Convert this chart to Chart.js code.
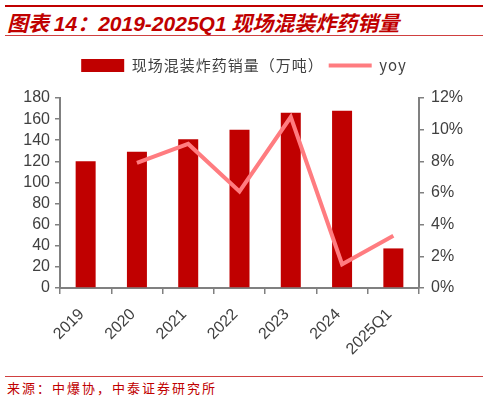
<!DOCTYPE html>
<html>
<head>
<meta charset="utf-8">
<script src="https://cdn.jsdelivr.net/npm/chart.js@4"></script>
<style>
  body { margin: 0; width: 488px; height: 400px; background: #fff; position: relative; overflow: hidden; font-family: "Noto Sans CJK SC", sans-serif; }
  .topline { position: absolute; left: 5px; top: 5px; width: 478px; height: 2px; background: #c00000; }
  .title { position: absolute; left: 7px; top: 7px; font-size: 21px; font-weight: bold; font-style: italic; color: #c00000; white-space: nowrap; }
  .title .num { font-family: "Liberation Sans", Arial, sans-serif; }
  .subline { position: absolute; left: 5px; top: 35px; width: 478px; height: 1px; background: #d04040; }
  .footline { position: absolute; left: 5px; top: 376px; width: 478px; height: 1px; background: #d04040; }
  .source { position: absolute; left: 7px; top: 378px; font-size: 13px; color: #c00000; letter-spacing: 2px; white-space: nowrap; }
  #wrap { position: absolute; left: 0; top: 40px; width: 488px; height: 330px; }
</style>
</head>
<body>
<div class="topline"></div>
<div class="title">图表 <span class="num">14</span>：<span class="num">2019-2025Q1</span> 现场混装炸药销量</div>
<div class="subline"></div>
<div id="wrap"><canvas id="chart"></canvas></div>
<div class="footline"></div>
<div class="source">来源：中爆协，中泰证券研究所</div>

<script>
let years = ["2019", "2020", "2021", "2022", "2023", "2024", "2025Q1"];
let volume = [120, 129, 141, 150, 166, 168, 37.5];   // 万吨
let yoy = [null, 0.079, 0.091, 0.061, 0.108, 0.015, 0.033];
let leftTicks = [0, 180, 20];
let rightTicks = [0, 0.12, 0.02];

let axisColor = "#808080";
let textColor = "#404040";
let tickFont = { size: 16, family: "'Liberation Sans', Arial, sans-serif" };

// wider letters in the legend + fixed legend height
let legendTweak = {
    id: "legendTweak",
    beforeInit: function (c) {
        let lg = c.legend;
        let fit = lg.fit, draw = lg.draw;
        lg.fit = function () {
            c.ctx.letterSpacing = "1px";
            fit.call(this);
            c.ctx.letterSpacing = "0px";
            this.height = 45;
        };
        lg.draw = function () {
            c.ctx.letterSpacing = "1px";
            draw.call(this);
            c.ctx.letterSpacing = "0px";
        };
    }
};

let ctx = document.getElementById("chart").getContext("2d");

let chart = new Chart(ctx, {
    data: {
        labels: years,
        datasets: [{
            type: "line",
            label: "yoy",
            data: yoy,
            yAxisID: "y1",
            borderColor: "#ff7c80",
            backgroundColor: "#ff7c80",
            borderWidth: 4,
            pointRadius: 0,
            tension: 0,
            order: 0
        }, {
            type: "bar",
            label: "现场混装炸药销量（万吨）",
            data: volume,
            yAxisID: "y",
            backgroundColor: "#c00000",
            barPercentage: 0.78,
            categoryPercentage: 0.5,
            order: 1
        }]
    },
    plugins: [legendTweak],
    options: {
        responsive: true,
        maintainAspectRatio: false,
        animation: false,
        layout: { padding: { top: 13, left: 0, right: 0, bottom: 0 } },
        plugins: {
            legend: {
                reverse: true,
                labels: {
                    usePointStyle: true,
                    pointStyleWidth: 43,
                    boxHeight: 13,
                    padding: 5,
                    color: textColor,
                    font: { size: 15, family: "'Noto Sans CJK SC', sans-serif" },
                    generateLabels: function (c) {
                        let items = Chart.defaults.plugins.legend.labels.generateLabels(c);
                        items.forEach(function (it) {
                            if (it.datasetIndex === 1) {
                                it.pointStyle = "rect";
                                it.lineWidth = 0;
                            } else {
                                it.pointStyle = "line";
                                it.lineWidth = 4;
                                it.strokeStyle = "#ff7c80";
                            }
                        });
                        return items;
                    }
                }
            },
            tooltip: { enabled: false }
        },
        scales: {
            x: {
                grid: { drawOnChartArea: false, drawTicks: true, tickLength: 6, color: axisColor, lineWidth: 1.5 },
                border: { color: axisColor, width: 2 },
                ticks: {
                    color: textColor,
                    font: tickFont,
                    padding: 11,
                    labelOffset: -4,
                    maxRotation: 45,
                    minRotation: 45
                },
                afterFit: function (s) { s.height = 82; }
            },
            y: {
                position: "left",
                min: leftTicks[0],
                max: leftTicks[1],
                grid: { drawOnChartArea: false, drawTicks: true, tickLength: 5, color: axisColor, lineWidth: 1.5 },
                border: { color: axisColor, width: 2 },
                ticks: {
                    stepSize: leftTicks[2],
                    autoSkip: false,
                    color: textColor,
                    padding: 5,
                    font: tickFont
                },
                afterFit: function (s) { s.width = 60; }
            },
            y1: {
                position: "right",
                min: rightTicks[0],
                max: rightTicks[1],
                grid: { drawOnChartArea: false, drawTicks: true, tickLength: 5, color: axisColor, lineWidth: 1.5 },
                border: { color: axisColor, width: 2 },
                ticks: {
                    stepSize: rightTicks[2],
                    autoSkip: false,
                    color: textColor,
                    padding: 7,
                    font: tickFont,
                    callback: function (v) { return Math.round(v * 100) + "%"; }
                },
                afterFit: function (s) { s.width = 69; }
            }
        }
    }
});
</script>
</body>
</html>
